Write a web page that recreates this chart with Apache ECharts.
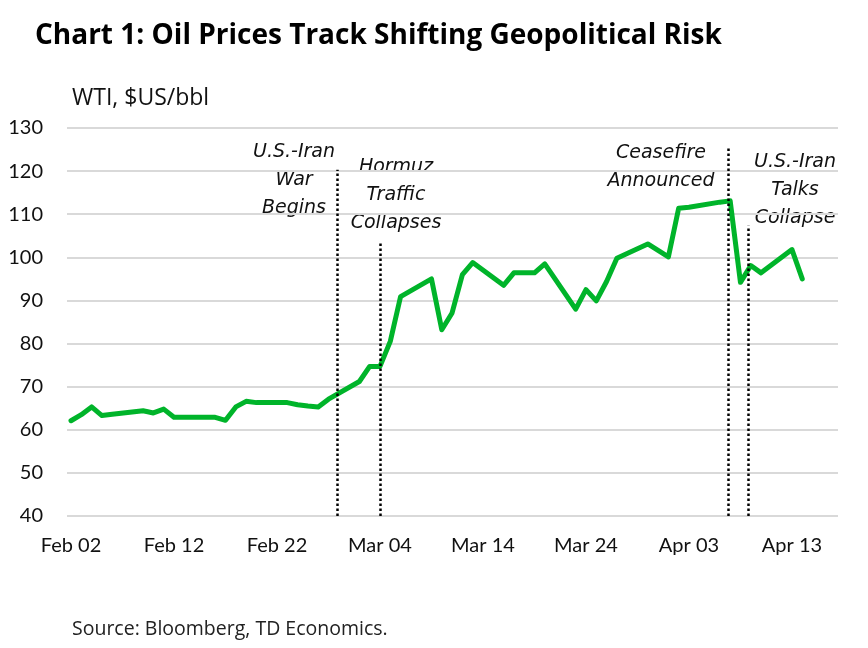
<!DOCTYPE html>
<html>
<head>
<meta charset="utf-8">
<script src="https://cdn.jsdelivr.net/npm/echarts@6/dist/echarts.min.js"></script>
<style>
html,body{margin:0;padding:0;background:#fff;}
#chart{width:868px;height:648px;}
</style>
</head>
<body>
<div id="chart"></div>
<script>
// ---- Data (WTI, $US/bbl) ----
const dates = [
  '2026-02-02','2026-02-03','2026-02-04','2026-02-05','2026-02-06',
  '2026-02-09','2026-02-10','2026-02-11','2026-02-12','2026-02-13',
  '2026-02-16','2026-02-17','2026-02-18','2026-02-19','2026-02-20',
  '2026-02-23','2026-02-24','2026-02-25','2026-02-26','2026-02-27',
  '2026-03-02','2026-03-03','2026-03-04','2026-03-05','2026-03-06',
  '2026-03-09','2026-03-10','2026-03-11','2026-03-12','2026-03-13',
  '2026-03-16','2026-03-17','2026-03-18','2026-03-19','2026-03-20',
  '2026-03-23','2026-03-24','2026-03-25','2026-03-26','2026-03-27',
  '2026-03-30','2026-03-31','2026-04-01','2026-04-02','2026-04-03',
  '2026-04-06','2026-04-07','2026-04-08','2026-04-09','2026-04-10',
  '2026-04-13','2026-04-14'
];
const wti = [
  62.1, 63.5, 65.3, 63.3, 63.6,
  64.4, 63.9, 64.8, 62.9, 62.9,
  62.9, 62.2, 65.3, 66.6, 66.3,
  66.3, 65.8, 65.5, 65.3, 67.1,
  71.2, 74.7, 74.7, 80.5, 90.9,
  95.0, 83.2, 87.1, 96.0, 98.8,
  93.5, 96.4, 96.4, 96.4, 98.5,
  88.0, 92.5, 89.9, 94.4, 99.8,
  103.1, 101.6, 100.1, 111.4, 111.6,
  112.8, 113.1, 94.2, 98.1, 96.4,
  101.8, 95.0
];
const tickDates = ['2026-02-02','2026-02-12','2026-02-22','2026-03-04','2026-03-14','2026-03-24','2026-04-03','2026-04-13'];
const yTicks = [40, 50, 60, 70, 80, 90, 100, 110, 120, 130];
const eventLabels = ['U.S.-Iran\nWar\nBegins', 'Hormuz\nTraffic\nCollapses', 'Ceasefire\nAnnounced', 'U.S.-Iran\nTalks\nCollapse'];
const eventDates = ['2026-02-27T20:00', '2026-03-04T00:00', '2026-04-06T19:00', '2026-04-08T18:00'];
const eventTops = [120.3, 103.3, 125.4, 107.3];

// ---- Helpers ----
const MONTHS = ['Jan','Feb','Mar','Apr','May','Jun','Jul','Aug','Sep','Oct','Nov','Dec'];
const BASE = Date.UTC(2026, 1, 2);
function dayOf(s) {
  const iso = s.length === 10 ? s + 'T00:00:00Z' : s + ':00Z';
  return (Date.parse(iso) - BASE) / 86400000;
}
function fmtDay(v) {
  const d = new Date(BASE + Math.round(v) * 86400000);
  const dd = d.getUTCDate();
  return MONTHS[d.getUTCMonth()] + ' ' + (dd < 10 ? '0' + dd : dd);
}
const measureCtx = document.createElement('canvas').getContext('2d');
function fitSize(text, family, weight, target, base) {
  measureCtx.font = weight + ' ' + base + 'px ' + family;
  const w = measureCtx.measureText(text).width;
  return w > 0 ? Math.round(base * target / w * 10) / 10 : base;
}

const FONT = 'Lato, "Noto Sans", sans-serif';
const WIDE = '"Open Sans", "Noto Sans", sans-serif';
const ANN = '"DejaVu Sans", "Open Sans", sans-serif';
const TITLE = 'Chart 1: Oil Prices Track Shifting Geopolitical Risk';
const titleSize = Math.min(28, fitSize(TITLE, WIDE, 'bold', 688, 26));
const wtiSize = Math.min(23, fitSize('WTI, $US/bbl', WIDE, 'normal', 150, 21));
const srcSize = Math.min(20, fitSize('Source: Bloomberg, TD Economics.', WIDE, 'normal', 315, 18));

const chart = echarts.init(document.getElementById('chart'), null, {renderer: 'canvas'});

const seriesData = dates.map((d, i) => [dayOf(d), wti[i]]);
const markData = eventDates.map((d, i) => [
  {coord: [dayOf(d), yTicks[0]]},
  {coord: [dayOf(d), eventTops[i]]}
]);

const annPos = [[294, 180], [396, 195], [661, 167], [795, 190]];

const option = {
  animation: false,
  backgroundColor: '#ffffff',
  title: {
    text: TITLE,
    left: 30, top: 17,
    textStyle: {fontFamily: WIDE, fontWeight: 'bold', fontSize: titleSize, color: '#000'}
  },
  grid: {left: 67, right: 30, top: 128, bottom: 132, containLabel: false},
  xAxis: {
    type: 'value',
    min: -0.39, max: 74.47,
    axisLine: {show: false},
    axisTick: {show: false},
    splitLine: {show: false},
    axisLabel: {
      customValues: tickDates.map(dayOf),
      formatter: fmtDay,
      fontFamily: FONT, fontSize: 20, color: '#111',
      margin: 20,
      showMinLabel: true, showMaxLabel: true
    }
  },
  yAxis: {
    type: 'value',
    min: yTicks[0], max: yTicks[yTicks.length - 1], interval: 10,
    axisLine: {show: false},
    axisTick: {show: false},
    axisLabel: {fontFamily: FONT, fontSize: 20, color: '#111', margin: 24},
    splitLine: {lineStyle: {color: '#d9d9d9', width: 2}}
  },
  series: [{
    type: 'line',
    data: seriesData,
    showSymbol: false,
    symbol: 'none',
    lineStyle: {color: '#00b42a', width: 5, join: 'round', cap: 'round'},
    z: 3,
    markLine: {
      silent: true,
      symbol: ['none', 'none'],
      label: {show: false},
      lineStyle: {color: '#000', width: 2.5, type: [2.5, 2.5]},
      data: markData,
      z: 4
    }
  }],
  graphic: [
    {type: 'text', left: 72, top: 87, style: {text: 'WTI, $US/bbl', font: wtiSize + 'px ' + WIDE, fill: '#111'}},
    {type: 'text', left: 72, top: 619, style: {text: 'Source: Bloomberg, TD Economics.', font: srcSize + 'px ' + WIDE, fill: '#222'}}
  ].concat(eventLabels.map((t, i) => ({
    type: 'text',
    style: {x: annPos[i][0], y: annPos[i][1], text: t, textAlign: 'center', textVerticalAlign: 'middle',
            font: 'oblique 19px ' + ANN, lineHeight: 28, fill: '#111'}
  })))
};
chart.setOption(option);
</script>
</body>
</html>
